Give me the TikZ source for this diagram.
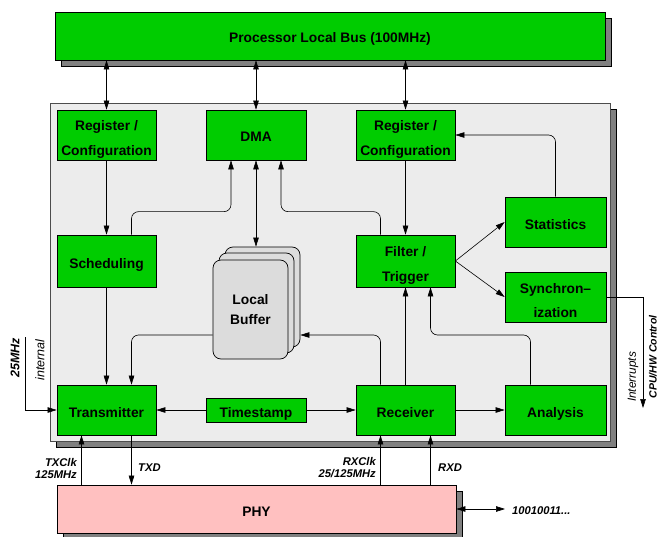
\documentclass[tikz,border=0pt]{standalone}
\usepackage{fontspec}
\setmainfont{Liberation Sans}
\usetikzlibrary{arrows.meta}
\definecolor{gr}{RGB}{0,204,0}
\definecolor{pk}{RGB}{255,192,192}
\definecolor{pan}{RGB}{236,236,236}
\definecolor{shd}{RGB}{128,128,128}
\definecolor{bufc}{RGB}{220,220,220}
\newcommand{\myTS}{\rule[-4pt]{0pt}{22pt}}
\begin{document}
\begin{tikzpicture}[x=1pt,y=-1pt,
  box/.style={draw=black, line width=0.7pt, fill=gr, font=\bfseries\fontsize{13.8}{14}\selectfont, align=center, inner sep=0pt, minimum width=99pt, minimum height=50pt},
  bufbox/.style={draw=black, line width=0.7pt, fill=bufc, rounded corners=8pt, minimum width=75pt, minimum height=99pt, inner sep=0pt, font=\bfseries\fontsize{13.8}{14}\selectfont, align=center},
  shadowbox/.style={draw=black, line width=0.6pt, fill=shd},
  arr/.style={-{Triangle[length=9pt,width=5.5pt]}, line width=0.6pt},
  darr/.style={{Triangle[length=9pt,width=5.5pt]}-{Triangle[length=9pt,width=5.5pt]}, line width=0.6pt},
  lab/.style={font=\bfseries\itshape\fontsize{11.2}{12}\selectfont, inner sep=0pt, align=right},
  labl/.style={font=\bfseries\itshape\fontsize{11.2}{12}\selectfont, inner sep=0pt, align=left},
  labr/.style={font=\bfseries\itshape\fontsize{12.5}{13}\selectfont, inner sep=0pt},
  labn/.style={font=\itshape\fontsize{12.5}{13}\selectfont, inner sep=0pt},
  labc/.style={font=\bfseries\itshape\fontsize{10.5}{12}\selectfont, inner sep=0pt}
]
\useasboundingbox (0,0) rectangle (660,537);
% panel
\filldraw[shadowbox] (56,109) rectangle (616,447);
\filldraw[fill=pan, draw=gray!60!black, line width=0.6pt] (50,103) rectangle (610,441);
% bus
\filldraw[shadowbox] (61,18) rectangle (611,66);
\node[box, minimum width=550pt, minimum height=48pt] (bus) at (330,36) {\myTS Processor Local Bus (100MHz)};
% phy
\filldraw[shadowbox] (63,491) rectangle (462,539);
\node[box, fill=pk, minimum width=399pt, minimum height=48pt] (phy) at (256.5,509) {\myTS PHY};
% boxes
\node[box] (reg1) at (106.5,135) {\myTS Register /\\[11pt]Configuration};
\node[box, minimum width=100pt] (dma) at (256,135) {\myTS DMA};
\node[box] (reg2) at (405.5,135) {\myTS Register /\\[11pt]Configuration};
\node[box, minimum height=52pt] (sched) at (106.5,261) {\myTS Scheduling};
\node[box, minimum height=52pt] (filt) at (405.5,261) {\myTS Filter /\\[11pt]Trigger};
\node[box, minimum width=101pt] (stats) at (555.5,222) {\myTS Statistics};
\node[box, minimum width=101pt] (sync) at (555.5,297) {\myTS Synchron--\\[10pt]ization};
\node[box] (tx) at (106.5,410) {\myTS Transmitter};
\node[box, minimum width=100pt, minimum height=24pt] (ts) at (256,410) {\myTS Timestamp};
\node[box] (rx) at (405.5,410) {\myTS Receiver};
\node[box, minimum width=101pt] (ana) at (555.5,410) {\myTS Analysis};
% buffer
\node[bufbox, minimum height=100pt] (buf3) at (262.5,297) {};
\node[bufbox, minimum height=100pt] (buf2) at (256.5,303) {};
\node[bufbox] (buf1) at (250.5,309.5) {Local\\[6pt]Buffer};
% coordinates
\coordinate (bufy) at (0,335);
\coordinate (clk) at (25,337);
\coordinate (irq) at (643,408);
\coordinate (serial) at (505,509);
% bus connections
\draw[darr] (bus.south -| reg1.north) -- (reg1.north);
\draw[darr] (bus.south -| dma.north) -- (dma.north);
\draw[darr] (bus.south -| reg2.north) -- (reg2.north);
% internal
\draw[arr] (reg1.south) -- (sched.north);
\draw[arr] (sched.south) -- (tx.north);
\draw[arr, rounded corners=7pt] ([xshift=25pt]sched.north) -- ++(0,-23) -| ([xshift=-25pt]dma.south);
\draw[arr, rounded corners=7pt] ([xshift=-25pt]filt.north) -- ++(0,-23) -| ([xshift=25pt]dma.south);
\draw[darr] (dma.south) -- (dma.south |- buf3.north);
\draw[arr] (reg2.south) -- (filt.north);
\draw[arr, rounded corners=7pt] (stats.north) |- (reg2.east);
\draw[arr] (filt.east) -- (stats.west);
\draw[arr] (filt.east) -- (sync.west);
\draw[arr] (sync.east) -| (irq);
\draw[arr, rounded corners=7pt] (buf1.west |- bufy) -| ([xshift=25pt]tx.north);
\draw[arr, rounded corners=7pt] ([xshift=-25pt]rx.north) |- (buf3.east |- bufy);
\draw[arr] (rx.north) -- (filt.south);
\draw[arr, rounded corners=7pt] ([xshift=-25pt]ana.north) -- ([xshift=-25pt]ana.north |- bufy) -| ([xshift=25pt]filt.south);
\draw[arr] (ts.west) -- (tx.east);
\draw[arr] (ts.east) -- (rx.west);
\draw[arr] (rx.east) -- (ana.west);
\draw[arr] (clk) |- (tx.west);
% phy connections
\draw[arr] ([xshift=-25pt]tx.south |- phy.north) -- ([xshift=-25pt]tx.south);
\draw[arr] ([xshift=25pt]tx.south) -- ([xshift=25pt]tx.south |- phy.north);
\draw[arr] ([xshift=-25pt]rx.south |- phy.north) -- ([xshift=-25pt]rx.south);
\draw[arr] ([xshift=25pt]rx.south |- phy.north) -- ([xshift=25pt]rx.south);
\draw[darr] (phy.east) -- (serial);
% labels
\node[lab, anchor=east] (l1) at (77,468) {TXClk\\125MHz};
\node[labl, anchor=west] (l2) at (138,468) {TXD};
\node[lab, anchor=east] (l3) at (376,468) {RXClk\\25/125MHz};
\node[labl, anchor=west] (l4) at (438,468) {RXD};
\node[labl, anchor=west] (l5) at (512,511) {10010011...};
\node[labr, rotate=90] (l6) at (15,358) {25MHz};
\node[labn, rotate=90] (l7) at (40,360) {internal};
\node[labn, rotate=90, font=\itshape\fontsize{11.8}{13}\selectfont] (l8) at (633,377) {Interrupts};
\node[labc, rotate=90] (l9) at (653,357) {CPU/HW Control};
\end{tikzpicture}
\end{document}
